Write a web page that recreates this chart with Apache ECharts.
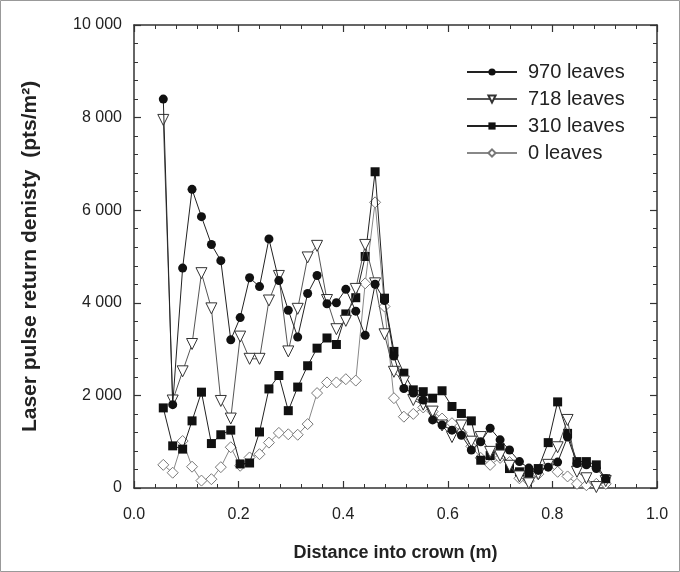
<!DOCTYPE html>
<html><head><meta charset="utf-8">
<script src="https://cdn.jsdelivr.net/npm/echarts@6/dist/echarts.min.js"></script>
<style>html,body{margin:0;padding:0;background:#fff}#c{width:680px;height:572px}</style>
</head><body><div id="c"></div>
<script>
const distance = [0.056,0.074,0.093,0.111,0.129,0.148,0.166,0.185,0.203,0.221,
  0.240,0.258,0.277,0.295,0.313,0.332,0.350,0.369,0.387,0.405,
  0.424,0.442,0.461,0.479,0.497,0.516,0.534,0.553,0.571,0.589,
  0.608,0.626,0.645,0.663,0.681,0.700,0.718,0.737,0.755,0.773,
  0.792,0.810,0.829,0.847,0.865,0.884,0.902];
const leaves970 = [8400,1800,4750,6450,5860,5260,4910,3200,3680,4540,
  4350,5380,4480,3840,3260,4200,4590,3980,4000,4290,
  3820,3300,4400,4050,2850,2150,2050,1900,1470,1360,
  1250,1140,820,1000,1290,1040,820,570,430,380,
  450,560,1100,530,500,420,200];
const leaves718 = [7950,1890,2520,3110,4640,3880,1880,1500,3270,2790,
  2790,4050,4580,2950,3870,4980,5230,4060,3430,3610,
  4300,5250,4420,3320,2510,2300,1900,1800,1650,1350,
  1100,1350,1000,1100,780,700,480,250,100,300,
  500,880,1470,350,210,20,150];
const leaves310 = [1730,910,840,1450,2070,960,1150,1250,520,540,
  1210,2140,2430,1670,2180,2640,3020,3240,3100,3760,
  4110,5000,6830,4100,2950,2480,2120,2080,1940,2100,
  1760,1610,1450,600,700,870,420,350,300,420,
  980,1860,1180,570,570,500,200];
const leaves0 = [500,330,1015,460,160,190,450,880,480,660,
  730,980,1190,1160,1150,1380,2050,2280,2280,2350,
  2320,4420,6170,3920,1940,1540,1600,1740,1650,1500,
  1400,1200,900,650,500,650,560,210,150,300,
  500,350,250,90,60,90,90];
const seriesNames = ['970 leaves','718 leaves','310 leaves','0 leaves'];
const xTitle = 'Distance into crown (m)';
const yTitle = 'Laser pulse return denisty  (pts/m\u00B2)';

const pairs = arr => arr.map((v,i)=>[distance[i], v]);
const FONT = '"Liberation Sans", Arial, sans-serif';
const axisColor = '#333';
const yFmt = v => v >= 1000 ? Math.floor(v/1000) + ' ' + String(v%1000).padStart(3,'0') : String(v);

const baseX = {
  type:'value', min:0, max:1, interval:0.2,
  axisLine:{show:true, onZero:false, lineStyle:{color:axisColor, width:1.5}},
  axisTick:{show:true, inside:true, length:7, lineStyle:{color:axisColor, width:1.2}},
  minorTick:{show:true, splitNumber:5, length:4, lineStyle:{color:axisColor, width:1}},
  splitLine:{show:false}
};
const baseY = {
  type:'value', min:0, max:10000, interval:2000,
  axisLine:{show:true, onZero:false, lineStyle:{color:axisColor, width:1.5}},
  axisTick:{show:true, inside:true, length:7, lineStyle:{color:axisColor, width:1.2}},
  minorTick:{show:true, splitNumber:5, length:4, lineStyle:{color:axisColor, width:1}},
  splitLine:{show:false}
};

const chart = echarts.init(document.getElementById('c'), null, {renderer:'canvas'});
chart.setOption({
  animation:false,
  textStyle:{fontFamily:FONT},
  grid:{left:134, right:23, top:25, bottom:84},
  graphic:[{type:'rect', shape:{x:0.5, y:0.5, width:679, height:571}, style:{fill:'none', stroke:'#999', lineWidth:1}, silent:true}],
  xAxis:[
    Object.assign({}, baseX, {position:'bottom',
      axisLabel:{formatter:v=>v.toFixed(1), fontSize:16, color:'#222', margin:19, fontFamily:FONT},
      name:xTitle, nameLocation:'middle', nameGap:56,
      nameTextStyle:{fontSize:18, fontWeight:'bold', color:'#222', fontFamily:FONT}}),
    Object.assign({}, baseX, {position:'top', axisLabel:{show:false}})
  ],
  yAxis:[
    Object.assign({}, baseY, {position:'left',
      axisLabel:{formatter:yFmt, fontSize:16, color:'#222', margin:12, fontFamily:FONT},
      name:yTitle, nameLocation:'middle', nameGap:93,
      nameTextStyle:{fontSize:21, fontWeight:'bold', color:'#222', fontFamily:FONT}}),
    Object.assign({}, baseY, {position:'right', axisLabel:{show:false}})
  ],
  legend:{
    data:seriesNames, orient:'vertical', left:461, top:57,
    itemWidth:50, itemHeight:9, itemGap:7,
    textStyle:{fontSize:20, color:'#222', fontFamily:FONT, padding:[0,0,0,6]}
  },
  series:[
    {name:seriesNames[3], type:'line', data:pairs(leaves0), symbol:'diamond', symbolSize:11, showAllSymbol:true,
      lineStyle:{color:'#888', width:1}, itemStyle:{color:'#fff', borderColor:'#777', borderWidth:1}, z:2},
    {name:seriesNames[2], type:'line', data:pairs(leaves310), symbol:'rect', symbolSize:9, showAllSymbol:true,
      lineStyle:{color:'#222', width:1}, itemStyle:{color:'#111', borderColor:'#111', borderWidth:0}, z:3},
    {name:seriesNames[1], type:'line', data:pairs(leaves718), symbol:'triangle', symbolRotate:180, symbolSize:11, showAllSymbol:true,
      lineStyle:{color:'#555', width:1}, itemStyle:{color:'#fff', borderColor:'#333', borderWidth:1}, z:4},
    {name:seriesNames[0], type:'line', data:pairs(leaves970), symbol:'circle', symbolSize:9, showAllSymbol:true,
      lineStyle:{color:'#222', width:1}, itemStyle:{color:'#111', borderColor:'#111', borderWidth:0}, z:5}
  ]
});
</script></body></html>
